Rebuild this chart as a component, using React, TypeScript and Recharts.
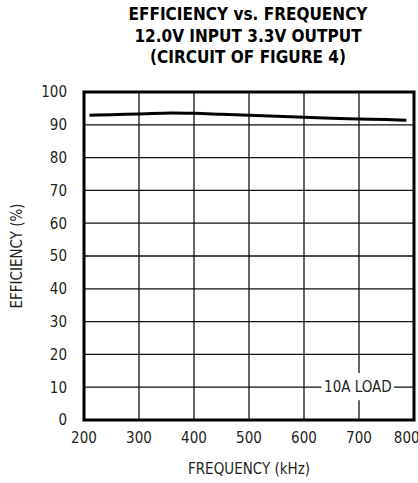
import React from 'react';
import {
  LineChart,
  Line,
  XAxis,
  YAxis,
  CartesianGrid,
  ReferenceArea,
} from 'recharts';

// efficiency curve, 10A load
const freqKHz = [210, 250, 300, 360, 400, 450, 500, 550, 600, 650, 700, 750, 786];
const efficiency = [92.9, 93.1, 93.3, 93.6, 93.5, 93.2, 92.9, 92.6, 92.3, 92.0, 91.8, 91.6, 91.4];

const xTicks = [200, 300, 400, 500, 600, 700, 800];
const yTicks = [0, 10, 20, 30, 40, 50, 60, 70, 80, 90, 100];

const titleLines = ['EFFICIENCY vs. FREQUENCY', '12.0V INPUT 3.3V OUTPUT', '(CIRCUIT OF FIGURE 4)'];
const loadLabel = '10A LOAD';
// label box on the 10% gridline (kHz / %)
const loadBox = { x1: 632, x2: 764, y1: 6, y2: 14.3 };

const data = freqKHz.map((f, i) => ({ freq: f, eff: efficiency[i] }));

const FONT = '"DejaVu Sans Condensed", "Roboto", sans-serif';
const INK = '#231f20';

const App: React.FC = () => {
  return (
    <div style={{ position: 'absolute', left: 0, top: 0, width: 418, height: 483, background: '#fff', overflow: 'hidden' }}>
      <div
        style={{
          position: 'absolute',
          left: 78,
          top: 3,
          width: 340,
          textAlign: 'center',
          fontFamily: FONT,
          fontWeight: 'bold',
          fontSize: 18.5,
          lineHeight: '21.5px',
          color: '#000',
          transform: 'scaleX(0.92)',
          transformOrigin: '170px 0',
        }}
      >
        {titleLines.map((t) => (
          <div key={t}>{t}</div>
        ))}
      </div>
      <LineChart
        width={418}
        height={483}
        data={data}
        margin={{ top: 92, right: 4, left: 24, bottom: 33 }}
        style={{ position: 'absolute', left: 0, top: 0, fontFamily: FONT }}
      >
        <CartesianGrid stroke="#111" strokeWidth={1.3} />
        <XAxis
          dataKey="freq"
          type="number"
          domain={[200, 800]}
          ticks={xTicks}
          height={30}
          tickSize={0}
          tickMargin={12}
          axisLine={false}
          tick={{ fill: INK, fontSize: 15 }}
          allowDataOverflow
          label={{ value: 'FREQUENCY (kHz)', position: 'center', dy: 34, fill: INK, fontSize: 15 }}
        />
        <YAxis
          type="number"
          domain={[0, 100]}
          ticks={yTicks}
          width={60}
          tickSize={0}
          tickMargin={17}
          axisLine={false}
          tick={{ fill: INK, fontSize: 15 }}
          label={{ value: 'EFFICIENCY (%)', angle: -90, position: 'center', dx: -37, fill: INK, fontSize: 15 }}
        />
        <ReferenceArea
          x1={loadBox.x1}
          x2={loadBox.x2}
          y1={loadBox.y1}
          y2={loadBox.y2}
          fill="#fff"
          fillOpacity={1}
          stroke="none"
          label={{ value: loadLabel, position: 'center', fill: INK, fontSize: 15 }}
        />
        <ReferenceArea
          x1={200}
          x2={800}
          y1={0}
          y2={100}
          fill="none"
          fillOpacity={0}
          stroke="#000"
          strokeWidth={3}
        />
        <Line
          dataKey="eff"
          type="monotone"
          stroke="#000"
          strokeWidth={3}
          dot={false}
          isAnimationActive={false}
        />
      </LineChart>
    </div>
  );
};

export default App;
